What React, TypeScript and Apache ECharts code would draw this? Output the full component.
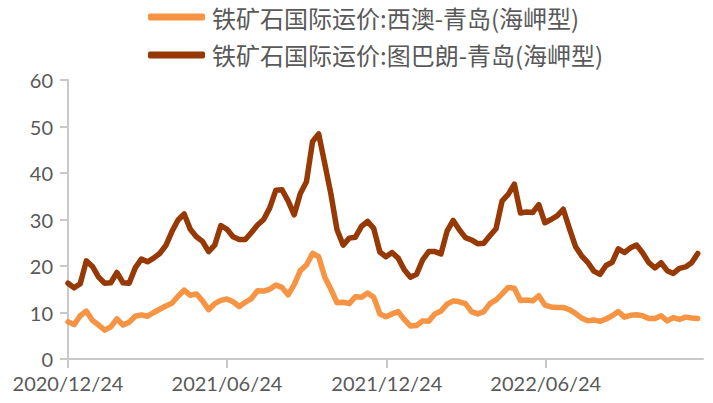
import React, { useEffect, useRef } from "react";
import * as echarts from "echarts";

// weekly observations starting 2020/12/24
const startDate = "2020/12/24";
const stepDays = 7;

const seriesNames = [
  "铁矿石国际运价:西澳-青岛(海岬型)",
  "铁矿石国际运价:图巴朗-青岛(海岬型)",
];

const westAus = [
  8, 7.4, 9.3, 10.3, 8.3, 7.3, 6.2, 6.9, 8.6, 7.3, 7.9, 9.2, 9.5, 9.2, 10, 10.7, 11.4, 12, 13.5, 14.8,
  13.7, 14, 12.5, 10.6, 11.9, 12.6, 12.9, 12.3, 11.3, 12.2, 13, 14.7, 14.6, 15, 15.9, 15.4, 13.8, 16, 19, 20.2,
  22.7, 22, 17.6, 15, 12.1, 12.2, 11.9, 13.4, 13.3, 14.2, 13.3, 9.7, 9.1, 9.7, 10.2, 8.5, 7.1, 7.2, 8.2, 8.1,
  9.7, 10.3, 11.8, 12.5, 12.3, 11.9, 10.2, 9.7, 10.2, 11.9, 12.7, 14, 15.4, 15.2, 12.6, 12.7, 12.5, 13.6, 11.6, 11.2,
  11.1, 11.1, 10.6, 9.8, 8.8, 8.2, 8.4, 8.1, 8.6, 9.3, 10.2, 9, 9.4, 9.5, 9.3, 8.7, 8.7, 9.3, 8.2, 8.9,
  8.5, 9, 8.8, 8.7,
];

const tubarao = [
  16.3, 15.3, 16.2, 21.1, 19.9, 17.6, 16.3, 16.4, 18.6, 16.4, 16.3, 19.6, 21.5, 20.9, 21.7, 22.7, 24.4, 27.4, 29.9, 31.2,
  27.9, 26.3, 25.3, 23.1, 24.5, 28.7, 27.9, 26.3, 25.7, 25.7, 27.2, 28.8, 30, 32.5, 36.3, 36.4, 34, 31, 35.6, 38.1,
  46.8, 48.4, 42, 35.5, 27.8, 24.5, 26, 26.2, 28.5, 29.6, 28.1, 23, 22, 22.9, 21.7, 19.2, 17.6, 18.2, 21.3, 23.1,
  23.1, 22.6, 27.5, 29.8, 27.8, 26.1, 25.6, 24.8, 24.9, 26.5, 28, 34, 35.4, 37.6, 31.4, 31.6, 31.5, 33.2, 29.3, 30,
  30.8, 32.2, 28.1, 24.2, 22.2, 20.8, 18.9, 18.2, 20.1, 20.8, 23.7, 22.9, 23.9, 24.5, 22.8, 20.7, 19.6, 20.7, 19, 18.4,
  19.5, 19.8, 20.7, 22.7,
];

const xTickLabels = ["2020/12/24", "2021/06/24", "2021/12/24", "2022/06/24"];
const xAxisEnd = "2022/12/21";
const yTicks = [0, 10, 20, 30, 40, 50, 60];

const colors = ["#F79443", "#973905"];

const DAY = 86400000;
const toUTC = (s: string) => {
  const [y, m, d] = s.split("/").map(Number);
  return Date.UTC(y, m - 1, d);
};
const dayOffset = (s: string) => Math.round((toUTC(s) - toUTC(startDate)) / DAY);

export default function App() {
  const ref = useRef<HTMLDivElement>(null);
  useEffect(() => {
    if (!ref.current) return;
    const chart = echarts.init(ref.current, null, { renderer: "svg" });
    const tickDays = xTickLabels.map(dayOffset);
    const mk = (vals: number[]) => vals.map((v, i) => [i * stepDays, v]);
    const axisGray = "#C9C9C9";
    const labelGray = "#595959";
    const numFont = "Lato, 'Noto Sans', sans-serif";
    chart.setOption({
      animation: false,
      backgroundColor: "#ffffff",
      color: colors,
      legend: {
        orient: "vertical",
        left: 148,
        top: 5,
        padding: 0,
        itemWidth: 57,
        itemHeight: 7,
        itemGap: 14,
        icon: "roundRect",
        textStyle: {
          fontSize: 24,
          color: labelGray,
          fontFamily: "'Noto Sans CJK SC', sans-serif",
          padding: [0, 0, 0, 2],
        },
        data: seriesNames,
      },
      grid: { left: 68, right: 10, top: 80, bottom: 44, containLabel: false },
      xAxis: {
        type: "value",
        min: 0,
        max: dayOffset(xAxisEnd),
        splitLine: { show: false },
        axisLine: { show: true, lineStyle: { color: axisGray, width: 2 } },
        axisTick: {
          show: true,
          length: 9,
          lineStyle: { color: axisGray, width: 2 },
          customValues: tickDays,
        },
        axisLabel: {
          customValues: tickDays,
          margin: 14,
          fontSize: 20,
          color: labelGray,
          fontFamily: numFont,
          formatter: (v: number) => {
            const idx = tickDays.indexOf(Math.round(v));
            return idx >= 0 ? xTickLabels[idx] : "";
          },
        },
      },
      yAxis: {
        type: "value",
        min: yTicks[0],
        max: yTicks[yTicks.length - 1],
        interval: 10,
        splitLine: { show: false },
        axisLine: { show: true, lineStyle: { color: axisGray, width: 2 } },
        axisTick: { show: true, length: 8, lineStyle: { color: axisGray, width: 2 } },
        axisLabel: { margin: 15, fontSize: 20, color: labelGray, fontFamily: numFont },
      },
      series: [
        {
          name: seriesNames[0],
          type: "line",
          data: mk(westAus),
          showSymbol: false,
          symbol: "none",
          lineStyle: { width: 5.5, color: colors[0], join: "round", cap: "round" },
          z: 2,
        },
        {
          name: seriesNames[1],
          type: "line",
          data: mk(tubarao),
          showSymbol: false,
          symbol: "none",
          lineStyle: { width: 5.5, color: colors[1], join: "round", cap: "round" },
          z: 3,
        },
      ],
    });
    return () => chart.dispose();
  }, []);
  return (
    <div
      ref={ref}
      style={{ position: "fixed", left: 0, top: 0, width: 713, height: 403, background: "#fff" }}
    />
  );
}
